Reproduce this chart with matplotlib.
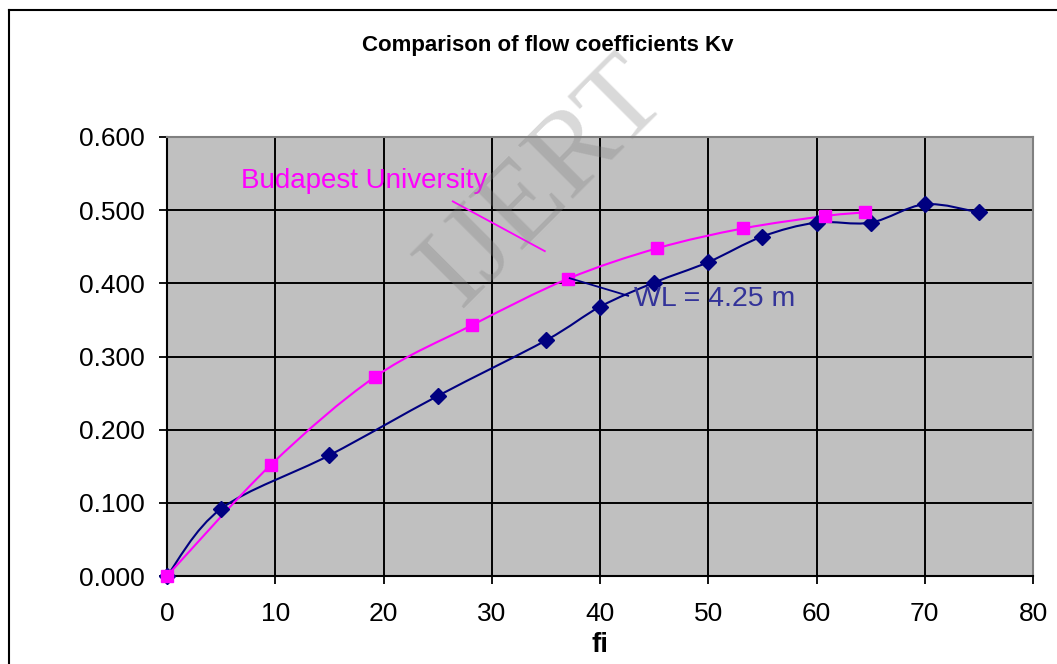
import numpy as np
import matplotlib
matplotlib.use("Agg")
import matplotlib.pyplot as plt
from matplotlib.path import Path
from matplotlib.patches import PathPatch
from matplotlib.lines import Line2D

# ---- data ----
wl_x = [0, 5, 15, 25, 35, 40, 45, 50, 55, 60, 65, 70, 75]
wl_y = [0.000, 0.092, 0.165, 0.246, 0.322, 0.368, 0.401, 0.429, 0.464, 0.483, 0.483, 0.508, 0.497]

bu_x = [0.0, 9.6, 19.2, 28.2, 37.0, 45.3, 53.2, 60.8, 64.5]
bu_y = [0.000, 0.152, 0.272, 0.343, 0.406, 0.448, 0.475, 0.492, 0.497]

x_ticks = [0, 10, 20, 30, 40, 50, 60, 70, 80]
y_ticks = [0.0, 0.1, 0.2, 0.3, 0.4, 0.5, 0.6]

title = "Comparison of flow coefficients Kv"
xlabel = "fi"
label_wl = "WL = 4.25 m"
label_bu = "Budapest University"

plt.rcParams['font.family'] = ['Liberation Sans', 'DejaVu Sans']

fig = plt.figure(figsize=(10.57, 6.64), dpi=100)
ax = fig.add_axes([167/1057, 1-576/664, (1033-167)/1057, (576-137)/664])
ax.set_facecolor('#C0C0C0')


def smooth_path(xs, ys):
    pts = np.column_stack([xs, ys]).astype(float)
    n = len(pts)
    verts = [pts[0]]
    codes = [Path.MOVETO]
    for i in range(n - 1):
        p0 = pts[i - 1] if i > 0 else pts[i]
        p1 = pts[i]
        p2 = pts[i + 1]
        p3 = pts[i + 2] if i + 2 < n else pts[i + 1]
        c1 = p1 + (p2 - p0) / 6.0
        c2 = p2 - (p3 - p1) / 6.0
        verts += [c1, c2, p2]
        codes += [Path.CURVE4] * 3
    return Path(verts, codes)


ax.add_patch(PathPatch(smooth_path(wl_x, wl_y), facecolor='none',
                       edgecolor='#000080', lw=1.5, zorder=3))
ax.add_patch(PathPatch(smooth_path(bu_x, bu_y), facecolor='none',
                       edgecolor='#FF00FF', lw=1.5, zorder=3))
ax.plot(wl_x, wl_y, ls='none', marker='D', ms=8.5, color='#000080', zorder=4, clip_on=False)
ax.plot(bu_x, bu_y, ls='none', marker='s', ms=8, color='#FF00FF', zorder=5, clip_on=False)

ax.set_xlim(0, 80)
ax.set_ylim(0, 0.6)
ax.set_xticks(x_ticks)
ax.set_yticks(y_ticks)
ax.set_yticklabels([f"{v:.3f}" for v in y_ticks])
ax.set_xticklabels([str(v) for v in x_ticks])
ax.tick_params(axis='both', labelsize=19, direction='out', length=6, width=1.3, color='black')
ax.tick_params(axis='y', pad=10)
ax.tick_params(axis='x', pad=13)
ax.grid(True, color='black', lw=1.4, zorder=1)
ax.set_axisbelow(True)
for s in ['top', 'right']:
    ax.spines[s].set_color('#808080')
    ax.spines[s].set_linewidth(1.5)
for s in ['left', 'bottom']:
    ax.spines[s].set_color('black')
    ax.spines[s].set_linewidth(1.5)

# annotations
ax.text(6.8, 0.540, label_bu, color='#FF00FF', fontsize=20, va='center', ha='left', zorder=6)
ax.plot([26.4, 34.9], [0.512, 0.444], color='#FF00FF', lw=1.3, zorder=6)
ax.text(43.1, 0.378, label_wl, color='#333399', fontsize=20.5, va='center', ha='left', zorder=6)
ax.plot([37.2, 42.6], [0.407, 0.383], color='#000080', lw=1.3, zorder=6)

# title and x label
fig.text(548/1057, 1-45/664, title, fontsize=16, fontweight='bold', ha='center', va='center')
fig.text(600/1057, 1-645/664, xlabel, fontsize=20, fontweight='bold', ha='center', va='center')

# watermark
fig.text(545/1057, 1-183/664, "IJERT", fontsize=84, family=['Liberation Serif', 'DejaVu Serif'],
         color='#808080', alpha=0.3, rotation=45, ha='center', va='center', zorder=10)

# outer frame
fig.add_artist(Line2D([9/1057, 9/1057], [0, 1-10/664], color='black', lw=1.5, transform=fig.transFigure))
fig.add_artist(Line2D([9/1057, 1], [1-10/664, 1-10/664], color='black', lw=1.5, transform=fig.transFigure))

fig.savefig('out.png', dpi=100, facecolor='white')
